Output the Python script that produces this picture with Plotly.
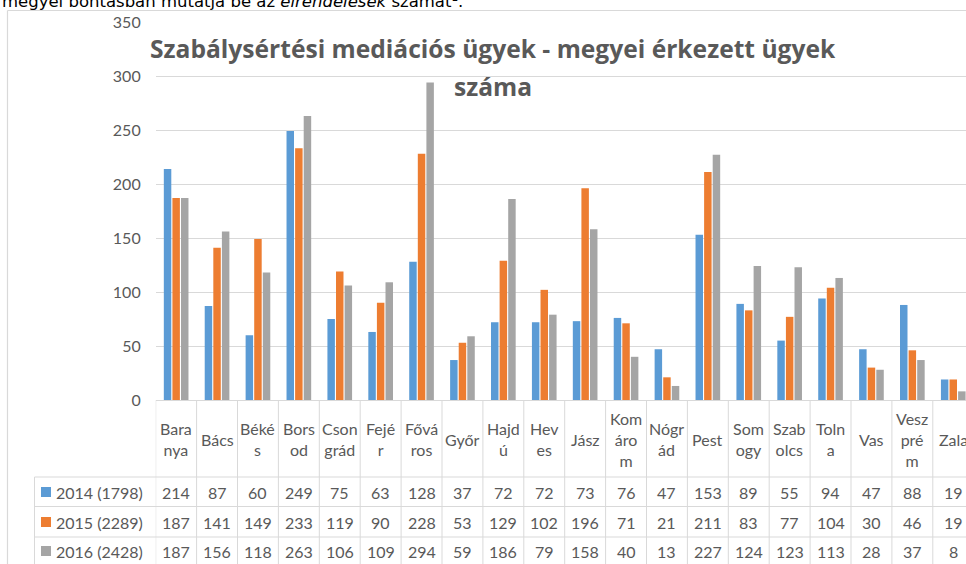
import plotly.graph_objects as go

categories = ["Baranya", "Bács", "Békés", "Borsod", "Csongrád", "Fejér", "Főváros", "Győr",
              "Hajdú", "Heves", "Jász", "Komárom", "Nógrád", "Pest", "Somogy", "Szabolcs",
              "Tolna", "Vas", "Veszprém", "Zala"]
header_labels = ["Bara<br>nya", "Bács", "Béké<br>s", "Bors<br>od", "Cson<br>grád", "Fejé<br>r",
                 "Fővá<br>ros", "Győr", "Hajd<br>ú", "Hev<br>es", "Jász", "Kom<br>áro<br>m",
                 "Nógr<br>ád", "Pest", "Som<br>ogy", "Szab<br>olcs", "Toln<br>a", "Vas",
                 "Vesz<br>pré<br>m", "Zala"]
series_names = ["2014 (1798)", "2015 (2289)", "2016 (2428)"]
v2014 = [214, 87, 60, 249, 75, 63, 128, 37, 72, 72, 73, 76, 47, 153, 89, 55, 94, 47, 88, 19]
v2015 = [187, 141, 149, 233, 119, 90, 228, 53, 129, 102, 196, 71, 21, 211, 83, 77, 104, 30, 46, 19]
v2016 = [187, 156, 118, 263, 106, 109, 294, 59, 186, 79, 158, 40, 13, 227, 124, 123, 113, 28, 37, 8]
y_ticks = [0, 50, 100, 150, 200, 250, 300, 350]
title_line1 = "Szabálysértési mediációs ügyek - megyei érkezett ügyek"
title_line2 = "száma"
page_text = "megyei bontásban mutatja be az <i>elrendelések</i> számát¹."

colors = ["#5b9bd5", "#ed7d31", "#a5a5a5"]
series = [v2014, v2015, v2016]

W, H = 966, 564
def px(x):
    return x / W
def py(y):
    return (H - y) / H

plot_left = 155.7
cat_w = 40.9
x_end = -0.5 + (W - plot_left) / cat_w

idx = list(range(len(categories)))

fig = go.Figure()
for name, vals, col in zip(series_names, series, colors):
    fig.add_trace(go.Bar(x=idx, y=vals, name=name, marker=dict(color=col, line=dict(width=0))))

txt_font = dict(family="Lato, Carlito, sans-serif", size=16, color="#595959")
grid_col = "#d9d9d9"

shapes = []
annotations = []

# outer chart border
shapes.append(dict(type="line", xref="paper", yref="paper", x0=px(7.5), x1=px(7.5), y0=py(10.5), y1=py(564),
                   line=dict(color=grid_col, width=1.2)))
shapes.append(dict(type="line", xref="paper", yref="paper", x0=px(7.5), x1=1, y0=py(10.5), y1=py(10.5),
                   line=dict(color=grid_col, width=1.2)))

# table column boundaries
for k in range(len(categories) + 1):
    shapes.append(dict(type="line", xref="x", yref="paper", x0=k - 0.5, x1=k - 0.5, y0=py(400), y1=0,
                       line=dict(color=grid_col, width=1)))
# table left border
shapes.append(dict(type="line", xref="paper", yref="paper", x0=px(34.5), x1=px(34.5), y0=py(477), y1=0,
                   line=dict(color=grid_col, width=1)))
# table horizontal lines
for yy in [477, 506.5, 537]:
    shapes.append(dict(type="line", xref="paper", yref="paper", x0=px(34.5), x1=1, y0=py(yy), y1=py(yy),
                       line=dict(color=grid_col, width=1)))

# header labels
for i, lab in enumerate(header_labels):
    annotations.append(dict(x=i, y=py(439), xref="x", yref="paper", text=lab, showarrow=False,
                            font=txt_font, xanchor="center", yanchor="middle"))

row_y = [492, 522, 551]
for r, (name, vals, col) in enumerate(zip(series_names, series, colors)):
    yc = row_y[r]
    shapes.append(dict(type="rect", xref="paper", yref="paper", x0=px(41), x1=px(51),
                       y0=py(yc + 5), y1=py(yc - 5), fillcolor=col, line=dict(width=0)))
    annotations.append(dict(x=px(54), y=py(yc), xref="paper", yref="paper", text=name, showarrow=False,
                            font=txt_font, xanchor="left", yanchor="middle"))
    for i, v in enumerate(vals):
        annotations.append(dict(x=i, y=py(yc), xref="x", yref="paper", text=str(v), showarrow=False,
                                font=txt_font, xanchor="center", yanchor="middle"))

# title
title_font = dict(family="Open Sans, sans-serif", size=24.6, color="#595959")
annotations.append(dict(x=px(493), y=py(48.5), xref="paper", yref="paper", text="<b>" + title_line1 + "</b>",
                        showarrow=False, font=title_font, xanchor="center", yanchor="middle"))
annotations.append(dict(x=px(493), y=py(86), xref="paper", yref="paper", text="<b>" + title_line2 + "</b>",
                        showarrow=False, font=title_font, xanchor="center", yanchor="middle"))

# cropped document text above chart
annotations.append(dict(x=0, y=py(2), xref="paper", yref="paper", text=page_text, showarrow=False,
                        font=dict(family="DejaVu Sans, Verdana, sans-serif", size=16.5, color="#000000"),
                        xanchor="left", yanchor="middle"))

fig.update_layout(
    width=W, height=H,
    margin=dict(l=0, r=0, t=0, b=0, autoexpand=False),
    paper_bgcolor="white", plot_bgcolor="white",
    barmode="group", bargap=0.37, bargroupgap=0.13,
    showlegend=False,
    shapes=shapes, annotations=annotations,
    xaxis=dict(domain=[px(plot_left), 1], range=[-0.5, x_end], showticklabels=False, showgrid=False,
               zeroline=False, showline=True, linecolor=grid_col, linewidth=1, ticks=""),
    yaxis=dict(domain=[py(400), py(22)], range=[0, 350], tickvals=y_ticks, showgrid=True, gridcolor=grid_col,
               gridwidth=1, zeroline=False, showline=False, tickfont=txt_font, ticklabelstandoff=14),
    font=txt_font,
)

fig.write_html("out.html", config={"displayModeBar": False},
               post_script="document.body.style.margin='0';document.body.style.overflow='hidden';")
